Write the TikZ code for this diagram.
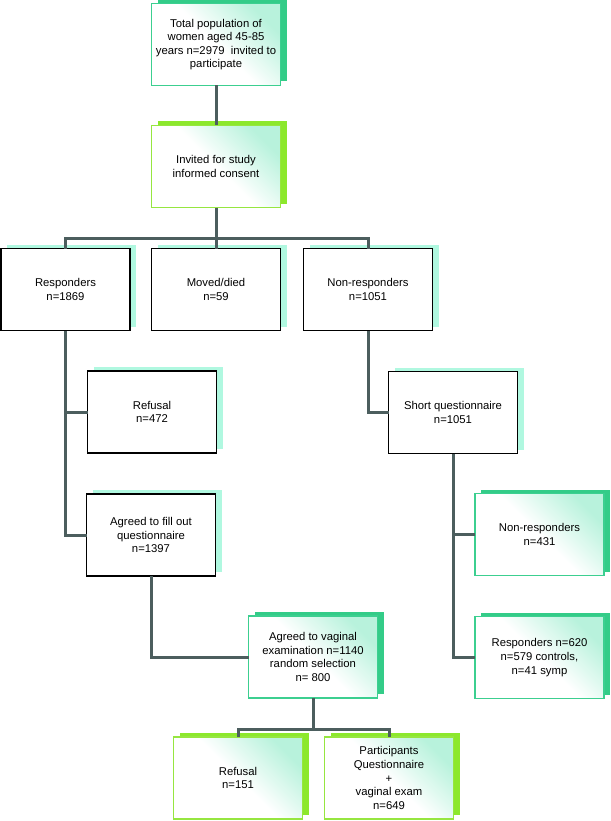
\documentclass[tikz,border=0pt]{standalone}
\usepackage{fontspec}
\setmainfont{Liberation Sans}
\usetikzlibrary{shadows}
\definecolor{gshad}{HTML}{33CC88}
\definecolor{lshad}{HTML}{8CE82C}
\definecolor{mshad}{HTML}{B0F8E0}
\definecolor{mintf}{HTML}{B8F2DC}
\definecolor{gborder}{HTML}{3CCF90}
\definecolor{lborder}{HTML}{96E640}
\definecolor{connc}{HTML}{4C5E5E}
\tikzset{
  box/.style={rectangle, minimum width=129pt, minimum height=82pt, inner sep=0pt, outer sep=0pt,
    align=center, font=\fontsize{11.3}{13.6}\selectfont},
  whitebox/.style={box, draw=black, line width=1.3pt, fill=white,
    general shadow={fill=mshad, shadow xshift=6pt, shadow yshift=4pt}},
  greenbox/.style={box, draw=gborder, line width=1.3pt, top color=mintf, bottom color=white, middle color=white, shading angle=-45,
    general shadow={fill=gshad, shadow xshift=6pt, shadow yshift=4pt}},
  limebox/.style={box, draw=lborder, line width=1.3pt, top color=mintf, bottom color=white, middle color=white, shading angle=-45,
    general shadow={fill=lshad, shadow xshift=6pt, shadow yshift=4pt}},
  conn/.style={draw=connc, line width=3pt}
}
\begin{document}
\begin{tikzpicture}[x=1pt,y=1pt]
\useasboundingbox (0,0) rectangle (610,-821);
\coordinate (j1) at (216,-238);
\coordinate (j2) at (313,-729);
\node[greenbox] (b1) at (216,-44.5) {Total population of\\women aged 45-85\\years n=2979\ \ invited to\\participate};
\node[limebox] (b2) at (216,-166.5) {Invited for study\\informed consent};
\node[whitebox] (resp) at (65.5,-289.5) {Responders\\n=1869};
\node[whitebox] (moved) at (216,-289.5) {Moved/died\\n=59};
\node[whitebox] (nonresp) at (368,-289.5) {Non-responders\\n=1051};
\node[whitebox] (refusal) at (152,-412) {Refusal\\n=472};
\node[whitebox] (agreed) at (151,-535) {Agreed to fill out\\questionnaire\\n=1397};
\node[whitebox] (shortq) at (453,-412.5) {Short questionnaire\\n=1051};
\node[greenbox] (nr431) at (539.5,-534.5) {Non-responders\\n=431};
\node[greenbox] (r620) at (539.5,-657.5) {Responders n=620\\n=579 controls,\\n=41 symp};
\node[greenbox] (vag) at (313,-657) {Agreed to vaginal\\examination n=1140\\random selection\\n= 800};
\node[limebox] (ref151) at (238,-778) {Refusal\\n=151};
\node[limebox] (part) at (389,-778) {Participants\\Questionnaire\\+\\vaginal exam\\n=649};
\draw[conn] (b1.south) -- (b2.north);
\draw[conn] (b2.south) -- (j1);
\draw[conn] (resp.north) |- (j1) -| (nonresp.north);
\draw[conn] (j1) -- (moved.north);
\draw[conn] (resp.south) |- (agreed.west);
\draw[conn] (resp.south |- refusal.west) -- (refusal.west);
\draw[conn] (agreed.south) |- (vag.west);
\draw[conn] (vag.south) -- (j2);
\draw[conn] (ref151.north) |- (j2) -| (part.north);
\draw[conn] (nonresp.south) |- (shortq.west);
\draw[conn] (shortq.south) |- (r620.west);
\draw[conn] (shortq.south |- nr431.west) -- (nr431.west);
\end{tikzpicture}
\end{document}
